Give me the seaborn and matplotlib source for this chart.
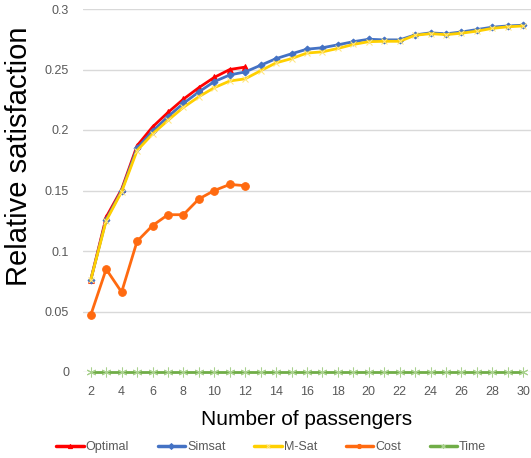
import numpy as np
import pandas as pd
import matplotlib
matplotlib.use('Agg')
import matplotlib.pyplot as plt
import seaborn as sns

passengers = list(range(2, 31))

optimal = [0.076, 0.128, 0.151, 0.187, 0.2025, 0.2145, 0.2255, 0.235, 0.2435, 0.250, 0.252]
simsat = [0.076, 0.126, 0.150, 0.185, 0.199, 0.211, 0.222, 0.2315, 0.240, 0.2455, 0.248,
          0.2535, 0.259, 0.263, 0.2668, 0.268, 0.2704, 0.273, 0.275, 0.2745, 0.2745,
          0.2786, 0.2803, 0.2795, 0.281, 0.283, 0.285, 0.286, 0.2866]
msat = [0.076, 0.125, 0.149, 0.183, 0.1967, 0.208, 0.2187, 0.2275, 0.235, 0.2405, 0.2423,
        0.249, 0.2555, 0.259, 0.2636, 0.2646, 0.2674, 0.2707, 0.273, 0.2733, 0.2733,
        0.2783, 0.2796, 0.2788, 0.280, 0.2817, 0.284, 0.2853, 0.286]
cost = [0.047, 0.085, 0.066, 0.108, 0.121, 0.130, 0.130, 0.143, 0.150, 0.155, 0.154]
time = [0.0] * len(passengers)

sns.set_style('white')
plt.rcParams['font.family'] = ['Liberation Sans', 'DejaVu Sans']

fig = plt.figure(figsize=(5.31, 4.58), dpi=100)
ax = fig.add_axes([83 / 531, (458 - 372) / 458, 448 / 531, (372 - 9) / 458])

# name, x, y, line colour, marker, marker size, marker edge colour
series = [
    ('Optimal', passengers[:len(optimal)], optimal, '#FF0000', '^', 5, '#FF0000'),
    ('Simsat', passengers, simsat, '#4472C4', 'D', 3.5, '#4472C4'),
    ('M-Sat', passengers, msat, '#FFD000', 'x', 5, '#FFE680'),
    ('Cost', passengers[:len(cost)], cost, '#FF6A10', 'o', 5.5, '#FF6A10'),
    ('Time', passengers, time, '#70AD47', (6, 2, 0), 7, '#A9D18E'),
]

for name, xs, ys, color, mk, ms, mec in series:
    df = pd.DataFrame({'x': xs, 'y': ys})
    sns.lineplot(data=df, x='x', y='y', ax=ax, color=color, lw=2, marker=mk,
                 markersize=ms, markeredgecolor=mec, markerfacecolor=color,
                 label=name, clip_on=False, zorder=3)

ax.set_xlim(1.5, 30.5)
ax.set_ylim(0, 0.3)
ax.set_xticks(range(2, 31, 2))
ax.set_yticks([0, 0.05, 0.1, 0.15, 0.2, 0.25, 0.3])
ax.set_yticklabels(['0', '0.05', '0.1', '0.15', '0.2', '0.25', '0.3'])
ax.grid(axis='y', color='#D9D9D9', lw=1)
ax.grid(axis='x', visible=False)
for s in ax.spines.values():
    s.set_visible(False)
ax.tick_params(axis='both', length=0, labelsize=9, colors='#595959')
ax.tick_params(axis='y', pad=10)
ax.tick_params(axis='x', pad=10)

ax.set_xlabel('Number of passengers', fontsize=15, color='black', labelpad=9)
ax.set_ylabel('Relative satisfaction', fontsize=21, color='black')
ax.yaxis.set_label_coords(-0.112, 0.595)

leg = ax.legend(loc='center', bbox_to_anchor=(0.42, -0.207), ncol=5, frameon=False,
                fontsize=9, handlelength=2.2, handletextpad=0.15, columnspacing=2.3,
                labelcolor='#595959')
for h in leg.get_lines():
    h.set_linewidth(2.5)
    h.set_markersize(3)

fig.savefig('out.png', dpi=100)
